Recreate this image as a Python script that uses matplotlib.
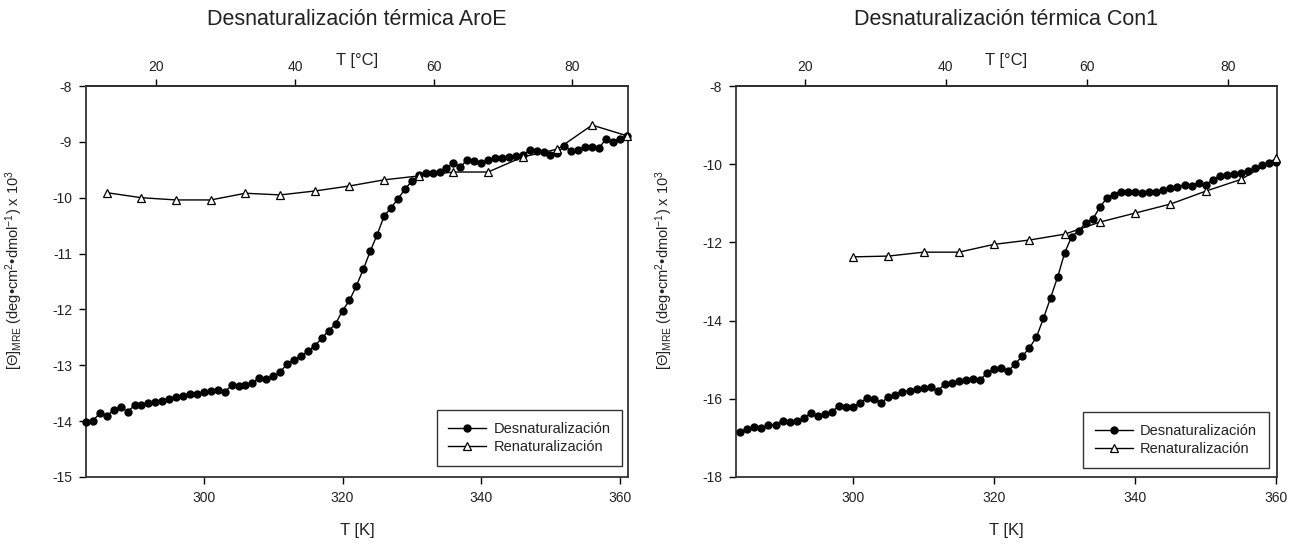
import matplotlib
matplotlib.use("Agg")
import matplotlib.pyplot as plt

plt.rcParams["font.family"] = ["Liberation Sans", "DejaVu Sans"]
plt.rcParams["mathtext.fontset"] = "custom"
plt.rcParams["mathtext.rm"] = "Liberation Sans"
plt.rcParams["mathtext.it"] = "Liberation Sans:italic"
plt.rcParams["mathtext.bf"] = "Liberation Sans:bold"
plt.rcParams["axes.unicode_minus"] = False

# --- AroE -------------------------------------------------------------------
aroe_den_T = [283, 284, 285, 286, 287, 288, 289, 290, 291, 292, 293, 294, 295,
              296, 297, 298, 299, 300, 301, 302, 303, 304, 305, 306, 307, 308,
              309, 310, 311, 312, 313, 314, 315, 316, 317, 318, 319, 320, 321,
              322, 323, 324, 325, 326, 327, 328, 329, 330, 331, 332, 333, 334,
              335, 336, 337, 338, 339, 340, 341, 342, 343, 344, 345, 346, 347,
              348, 349, 350, 351, 352, 353, 354, 355, 356, 357, 358, 359, 360,
              361]
aroe_den_theta = [-14.01, -13.99, -13.86, -13.91, -13.80, -13.74, -13.83, -13.72,
                  -13.72, -13.68, -13.65, -13.64, -13.61, -13.57, -13.55, -13.52,
                  -13.51, -13.48, -13.46, -13.44, -13.48, -13.36, -13.38, -13.35,
                  -13.31, -13.23, -13.25, -13.20, -13.12, -12.98, -12.90, -12.84,
                  -12.75, -12.65, -12.52, -12.38, -12.26, -12.02, -11.84, -11.58,
                  -11.28, -10.96, -10.66, -10.33, -10.18, -10.02, -9.85, -9.70,
                  -9.60, -9.55, -9.55, -9.54, -9.47, -9.38, -9.45, -9.32, -9.35,
                  -9.38, -9.32, -9.29, -9.29, -9.27, -9.25, -9.23, -9.15, -9.17,
                  -9.18, -9.23, -9.20, -9.07, -9.17, -9.14, -9.09, -9.10, -9.11,
                  -8.95, -9.01, -8.94, -8.90]
aroe_ren_T = [286, 291, 296, 301, 306, 311, 316, 321, 326, 331, 336, 341, 346,
              351, 356, 361]
aroe_ren_theta = [-9.91, -10.00, -10.04, -10.04, -9.92, -9.95, -9.88, -9.79,
                  -9.68, -9.61, -9.54, -9.54, -9.27, -9.13, -8.70, -8.89]

# --- Con1 -------------------------------------------------------------------
con1_den_T = [284, 285, 286, 287, 288, 289, 290, 291, 292, 293, 294, 295, 296,
              297, 298, 299, 300, 301, 302, 303, 304, 305, 306, 307, 308, 309,
              310, 311, 312, 313, 314, 315, 316, 317, 318, 319, 320, 321, 322,
              323, 324, 325, 326, 327, 328, 329, 330, 331, 332, 333, 334, 335,
              336, 337, 338, 339, 340, 341, 342, 343, 344, 345, 346, 347, 348,
              349, 350, 351, 352, 353, 354, 355, 356, 357, 358, 359, 360]
con1_den_theta = [-16.85, -16.78, -16.72, -16.75, -16.68, -16.66, -16.56, -16.60,
                  -16.57, -16.50, -16.36, -16.45, -16.40, -16.33, -16.18, -16.22,
                  -16.21, -16.10, -15.98, -16.00, -16.10, -15.95, -15.90, -15.82,
                  -15.80, -15.76, -15.72, -15.70, -15.80, -15.62, -15.60, -15.55,
                  -15.52, -15.50, -15.52, -15.34, -15.24, -15.22, -15.29, -15.10,
                  -14.91, -14.70, -14.42, -13.94, -13.42, -12.89, -12.27, -11.85,
                  -11.70, -11.50, -11.40, -11.10, -10.86, -10.78, -10.70, -10.72,
                  -10.72, -10.73, -10.72, -10.70, -10.66, -10.61, -10.58, -10.53,
                  -10.55, -10.48, -10.52, -10.40, -10.30, -10.28, -10.25, -10.22,
                  -10.18, -10.10, -10.02, -9.98, -9.94]
con1_ren_T = [300, 305, 310, 315, 320, 325, 330, 335, 340, 345, 350, 355, 360]
con1_ren_theta = [-12.37, -12.35, -12.25, -12.25, -12.05, -11.94, -11.79,
                  -11.48, -11.25, -11.02, -10.69, -10.39, -9.85]

panels = [
    dict(title="Desnaturalización térmica AroE", den=(aroe_den_T, aroe_den_theta),
         ren=(aroe_ren_T, aroe_ren_theta), xlim=(283.0, 361.2), ylim=(-15, -8),
         yticks=[-15, -14, -13, -12, -11, -10, -9, -8],
         rect=[0.0663, 0.1248, 0.418, 0.7174], leg=(0.989, 0.028)),
    dict(title="Desnaturalización térmica Con1", den=(con1_den_T, con1_den_theta),
         ren=(con1_ren_T, con1_ren_theta), xlim=(283.4, 360.1), ylim=(-18, -8),
         yticks=[-18, -16, -14, -12, -10, -8],
         rect=[0.5675, 0.1248, 0.417, 0.7174], leg=(0.985, 0.023)),
]

TEXT = "#222222"
ylabel = r"$[\Theta]_{\mathrm{MRE}}$ (deg•cm$^{2}$•dmol$^{-1}$) x 10$^{3}$"

fig = plt.figure(figsize=(12.97, 5.45), dpi=100)

for p in panels:
    ax = fig.add_axes(p["rect"])
    ax.plot(*p["den"], color="black", lw=1.0, marker="o", ms=5,
            mfc="black", mec="black", label="Desnaturalización", clip_on=False,
            zorder=3)
    ax.plot(*p["ren"], color="black", lw=1.0, marker="^", ms=6,
            mfc="white", mec="black", mew=0.9, label="Renaturalización",
            clip_on=False, zorder=4)

    ax.set_xlim(*p["xlim"])
    ax.set_ylim(*p["ylim"])
    ax.set_xticks([300, 320, 340, 360])
    ax.set_yticks(p["yticks"])
    ax.tick_params(direction="out", length=5, width=1.0, labelsize=10,
                   labelcolor=TEXT, pad=5)
    for sp in ax.spines.values():
        sp.set_linewidth(1.3)
        sp.set_color("#333333")

    # Celsius scale on the top spine
    sec = ax.secondary_xaxis("top", functions=(lambda k: k - 273.15,
                                               lambda c: c + 273.15))
    sec.set_xticks([20, 40, 60, 80])
    sec.tick_params(direction="out", length=5, width=1.0, labelsize=10,
                    labelcolor=TEXT, pad=4)
    sec.spines["top"].set_linewidth(1.3)

    ax.text(0.5, 1.169, p["title"], transform=ax.transAxes, ha="center",
            va="center", fontsize=15.5, color=TEXT)
    ax.text(0.5, 1.066, "T [°C]", transform=ax.transAxes, ha="center",
            va="center", fontsize=12, color=TEXT)
    ax.text(0.5, -0.136, "T [K]", transform=ax.transAxes, ha="center",
            va="center", fontsize=12, color=TEXT)

    ax.set_ylabel(ylabel, fontsize=10.5, color=TEXT)
    ax.yaxis.set_label_coords(-0.112, 0.53)

    leg = ax.legend(loc="lower right", bbox_to_anchor=p["leg"],
                    borderaxespad=0, fancybox=False, framealpha=1,
                    edgecolor="#333333", fontsize=10.5, handlelength=2.6,
                    borderpad=0.8, labelspacing=0.3, handletextpad=0.5)
    leg.get_frame().set_linewidth(1.0)
    for t in leg.get_texts():
        t.set_color(TEXT)

fig.savefig("out.png", dpi=100)
